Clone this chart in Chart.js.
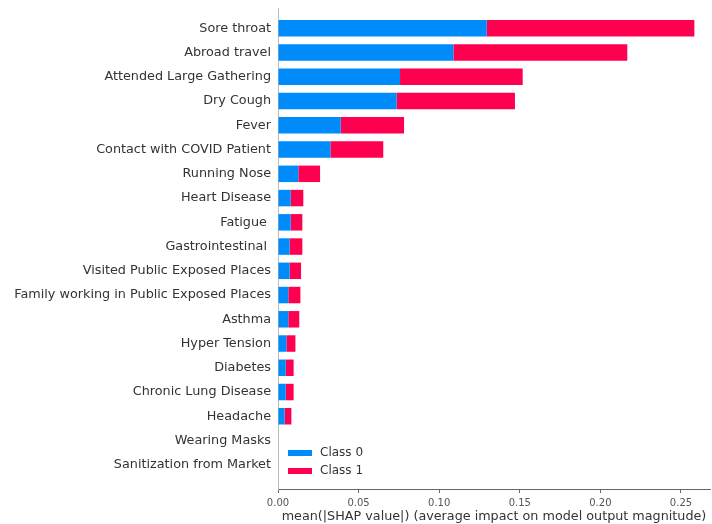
<!DOCTYPE html>
<html>
<head>
<meta charset="utf-8">
<script src="https://cdn.jsdelivr.net/npm/chart.js@4.4.0/dist/chart.umd.min.js"></script>
<style>
  html, body { margin: 0; padding: 0; background: #fff; }
  #wrap { width: 712px; height: 524px; }
</style>
</head>
<body>
<div id="wrap"><canvas id="shapChart"></canvas></div>
<script>
// features, top to bottom (two names carry a trailing space from the source data)
const features = [
  "Sore throat", "Abroad travel", "Attended Large Gathering", "Dry Cough",
  "Fever", "Contact with COVID Patient", "Running Nose", "Heart Disease",
  "Fatigue ", "Gastrointestinal ", "Visited Public Exposed Places",
  "Family working in Public Exposed Places", "Asthma", "Hyper Tension",
  "Diabetes", "Chronic Lung Disease", "Headache", "Wearing Masks",
  "Sanitization from Market"
];
// mean |SHAP| per class
const class0 = [0.1295, 0.1088, 0.0757, 0.0736, 0.0389, 0.0325, 0.0126, 0.0079,
  0.0079, 0.0072, 0.0072, 0.0064, 0.0064, 0.0052, 0.0048, 0.0048, 0.0041, 0, 0];
const class1 = [0.1288, 0.1079, 0.0761, 0.0734, 0.0393, 0.0328, 0.0135, 0.0078,
  0.0072, 0.0079, 0.0071, 0.0075, 0.0068, 0.0056, 0.0049, 0.0049, 0.0042, 0, 0];
const classNames = ["Class 0", "Class 1"];
const xTicks = [0, 0.05, 0.10, 0.15, 0.20, 0.25];

const BLUE = "#008bfb";
const RED = "#ff0051";
const FONT = "'DejaVu Sans', sans-serif";

const toPoints = arr => arr.map((v, i) => ({ x: v, y: i }));

// small legend in the lower-left corner of the plot
const innerLegend = {
  id: "innerLegend",
  afterDatasetsDraw(chart) {
    const { ctx, chartArea } = chart;
    const x = chartArea.left + 10;
    let y = chartArea.bottom - 36;
    ctx.save();
    ctx.font = "12px " + FONT;
    ctx.textBaseline = "middle";
    chart.data.datasets.forEach(ds => {
      ctx.fillStyle = ds.backgroundColor;
      ctx.fillRect(x, y - 3, 24, 6);
      ctx.fillStyle = "#333";
      ctx.fillText(ds.label, x + 32, y);
      y += 18;
    });
    ctx.restore();
  }
};

new Chart(document.getElementById("shapChart"), {
  type: "bar",
  data: {
    datasets: [
      { label: classNames[0], data: toPoints(class0), backgroundColor: BLUE },
      { label: classNames[1], data: toPoints(class1), backgroundColor: RED }
    ]
  },
  options: {
    indexAxis: "y",
    responsive: true,
    maintainAspectRatio: false,
    animation: false,
    categoryPercentage: 1,
    barPercentage: 0.68,
    layout: { padding: { top: 8, right: 2, left: 0, bottom: 0 } },
    plugins: {
      legend: { display: false },
      tooltip: { enabled: false }
    },
    scales: {
      x: {
        type: "linear",
        stacked: true,
        min: 0,
        max: 0.268,
        afterBuildTicks: s => { s.ticks = xTicks.map(v => ({ value: v })); },
        afterFit: s => { s.height = 35; },
        grid: { drawOnChartArea: false, drawTicks: true, tickLength: 4, color: "#666" },
        border: { display: true, color: "#666", width: 1 },
        ticks: {
          callback: v => v.toFixed(2),
          color: "#555",
          font: { family: FONT, size: 10 },
          padding: 4,
          maxRotation: 0
        },
        title: {
          display: true,
          text: "mean(|SHAP value|) (average impact on model output magnitude)",
          color: "#333",
          font: { family: FONT, size: 12.75 },
          padding: { top: 0, bottom: 0 }
        }
      },
      y: {
        type: "linear",
        stacked: true,
        reverse: true,
        offset: false,
        min: -0.84,
        max: 19,
        afterBuildTicks: s => { s.ticks = features.map((f, i) => ({ value: i })); },
        afterFit: s => { s.width = 278; s.paddingTop = 0; s.paddingBottom = 0; },
        grid: { display: false, drawTicks: false },
        border: { display: true, color: "#bbb", width: 1 },
        ticks: {
          callback: v => features[v],
          color: "#333",
          font: { family: FONT, size: 12.8 },
          padding: 7,
          autoSkip: false
        }
      }
    }
  },
  plugins: [innerLegend]
});
</script>
</body>
</html>
